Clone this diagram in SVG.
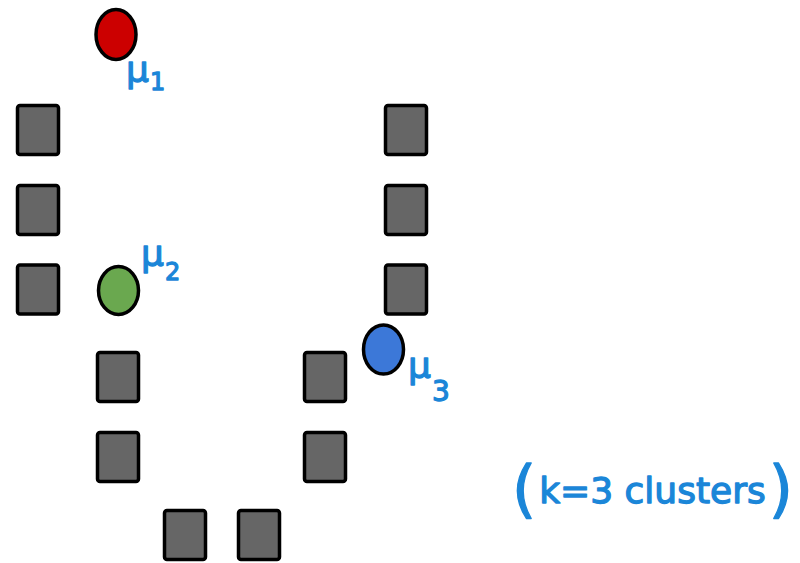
<svg xmlns="http://www.w3.org/2000/svg" width="800" height="563" viewBox="0 0 800 563">
  <style>
    .pt { fill: #666666; stroke: #000000; stroke-width: 3.5; }
    .ctr { stroke: #000000; stroke-width: 3.5; }
    .lbl { fill: #1b86d8; stroke: #1b86d8; stroke-width: 1.3; stroke-linejoin: round; font-family: "DejaVu Sans", "Liberation Sans", sans-serif; }
  </style>
  <defs>
    <rect id="sq" x="0" y="0" width="41" height="49" rx="2.5" ry="2.5"/>
  </defs>
  <rect width="800" height="563" fill="#ffffff"/>

  <!-- data points -->
  <g id="p1"><use href="#sq" class="pt" x="17.5" y="105.5"/></g>
  <g id="p2"><use href="#sq" class="pt" x="17.5" y="185.5"/></g>
  <g id="p3"><use href="#sq" class="pt" x="17.5" y="265"/></g>
  <g id="p4"><use href="#sq" class="pt" x="385.5" y="105.5"/></g>
  <g id="p5"><use href="#sq" class="pt" x="385.5" y="185.5"/></g>
  <g id="p6"><use href="#sq" class="pt" x="385.5" y="265"/></g>
  <g id="p7"><use href="#sq" class="pt" x="97.5" y="352.5"/></g>
  <g id="p8"><use href="#sq" class="pt" x="97.5" y="432.5"/></g>
  <g id="p9"><use href="#sq" class="pt" x="304.5" y="352.5"/></g>
  <g id="p10"><use href="#sq" class="pt" x="304.5" y="432.5"/></g>
  <g id="p11"><use href="#sq" class="pt" x="164.5" y="510.5"/></g>
  <g id="p12"><use href="#sq" class="pt" x="238.5" y="510.5"/></g>

  <!-- centroids -->
  <g id="mu1">
    <ellipse class="ctr" cx="116" cy="34.5" rx="20" ry="25" fill="#cc0000"/>
    <text class="lbl" x="126" y="82" font-size="36">μ<tspan font-size="24" dx="1" dy="8">1</tspan></text>
  </g>
  <g id="mu2">
    <ellipse class="ctr" cx="118.5" cy="290.5" rx="20" ry="24" fill="#6aa84f"/>
    <text class="lbl" x="141" y="266" font-size="36">μ<tspan font-size="24" dx="1" dy="14">2</tspan></text>
  </g>
  <g id="mu3">
    <ellipse class="ctr" cx="383.5" cy="349.5" rx="20" ry="24.5" fill="#3c78d8"/>
    <text class="lbl" x="408" y="378" font-size="36">μ<tspan font-size="28" dx="1" dy="23">3</tspan></text>
  </g>

  <!-- annotation -->
  <g id="note">
    <text class="lbl" x="512" y="503" font-size="36"><tspan font-size="62" dy="7">(</tspan><tspan dy="-7" dx="3">k=3 clusters</tspan><tspan font-size="62" dy="7" dx="3">)</tspan></text>
  </g>
</svg>
